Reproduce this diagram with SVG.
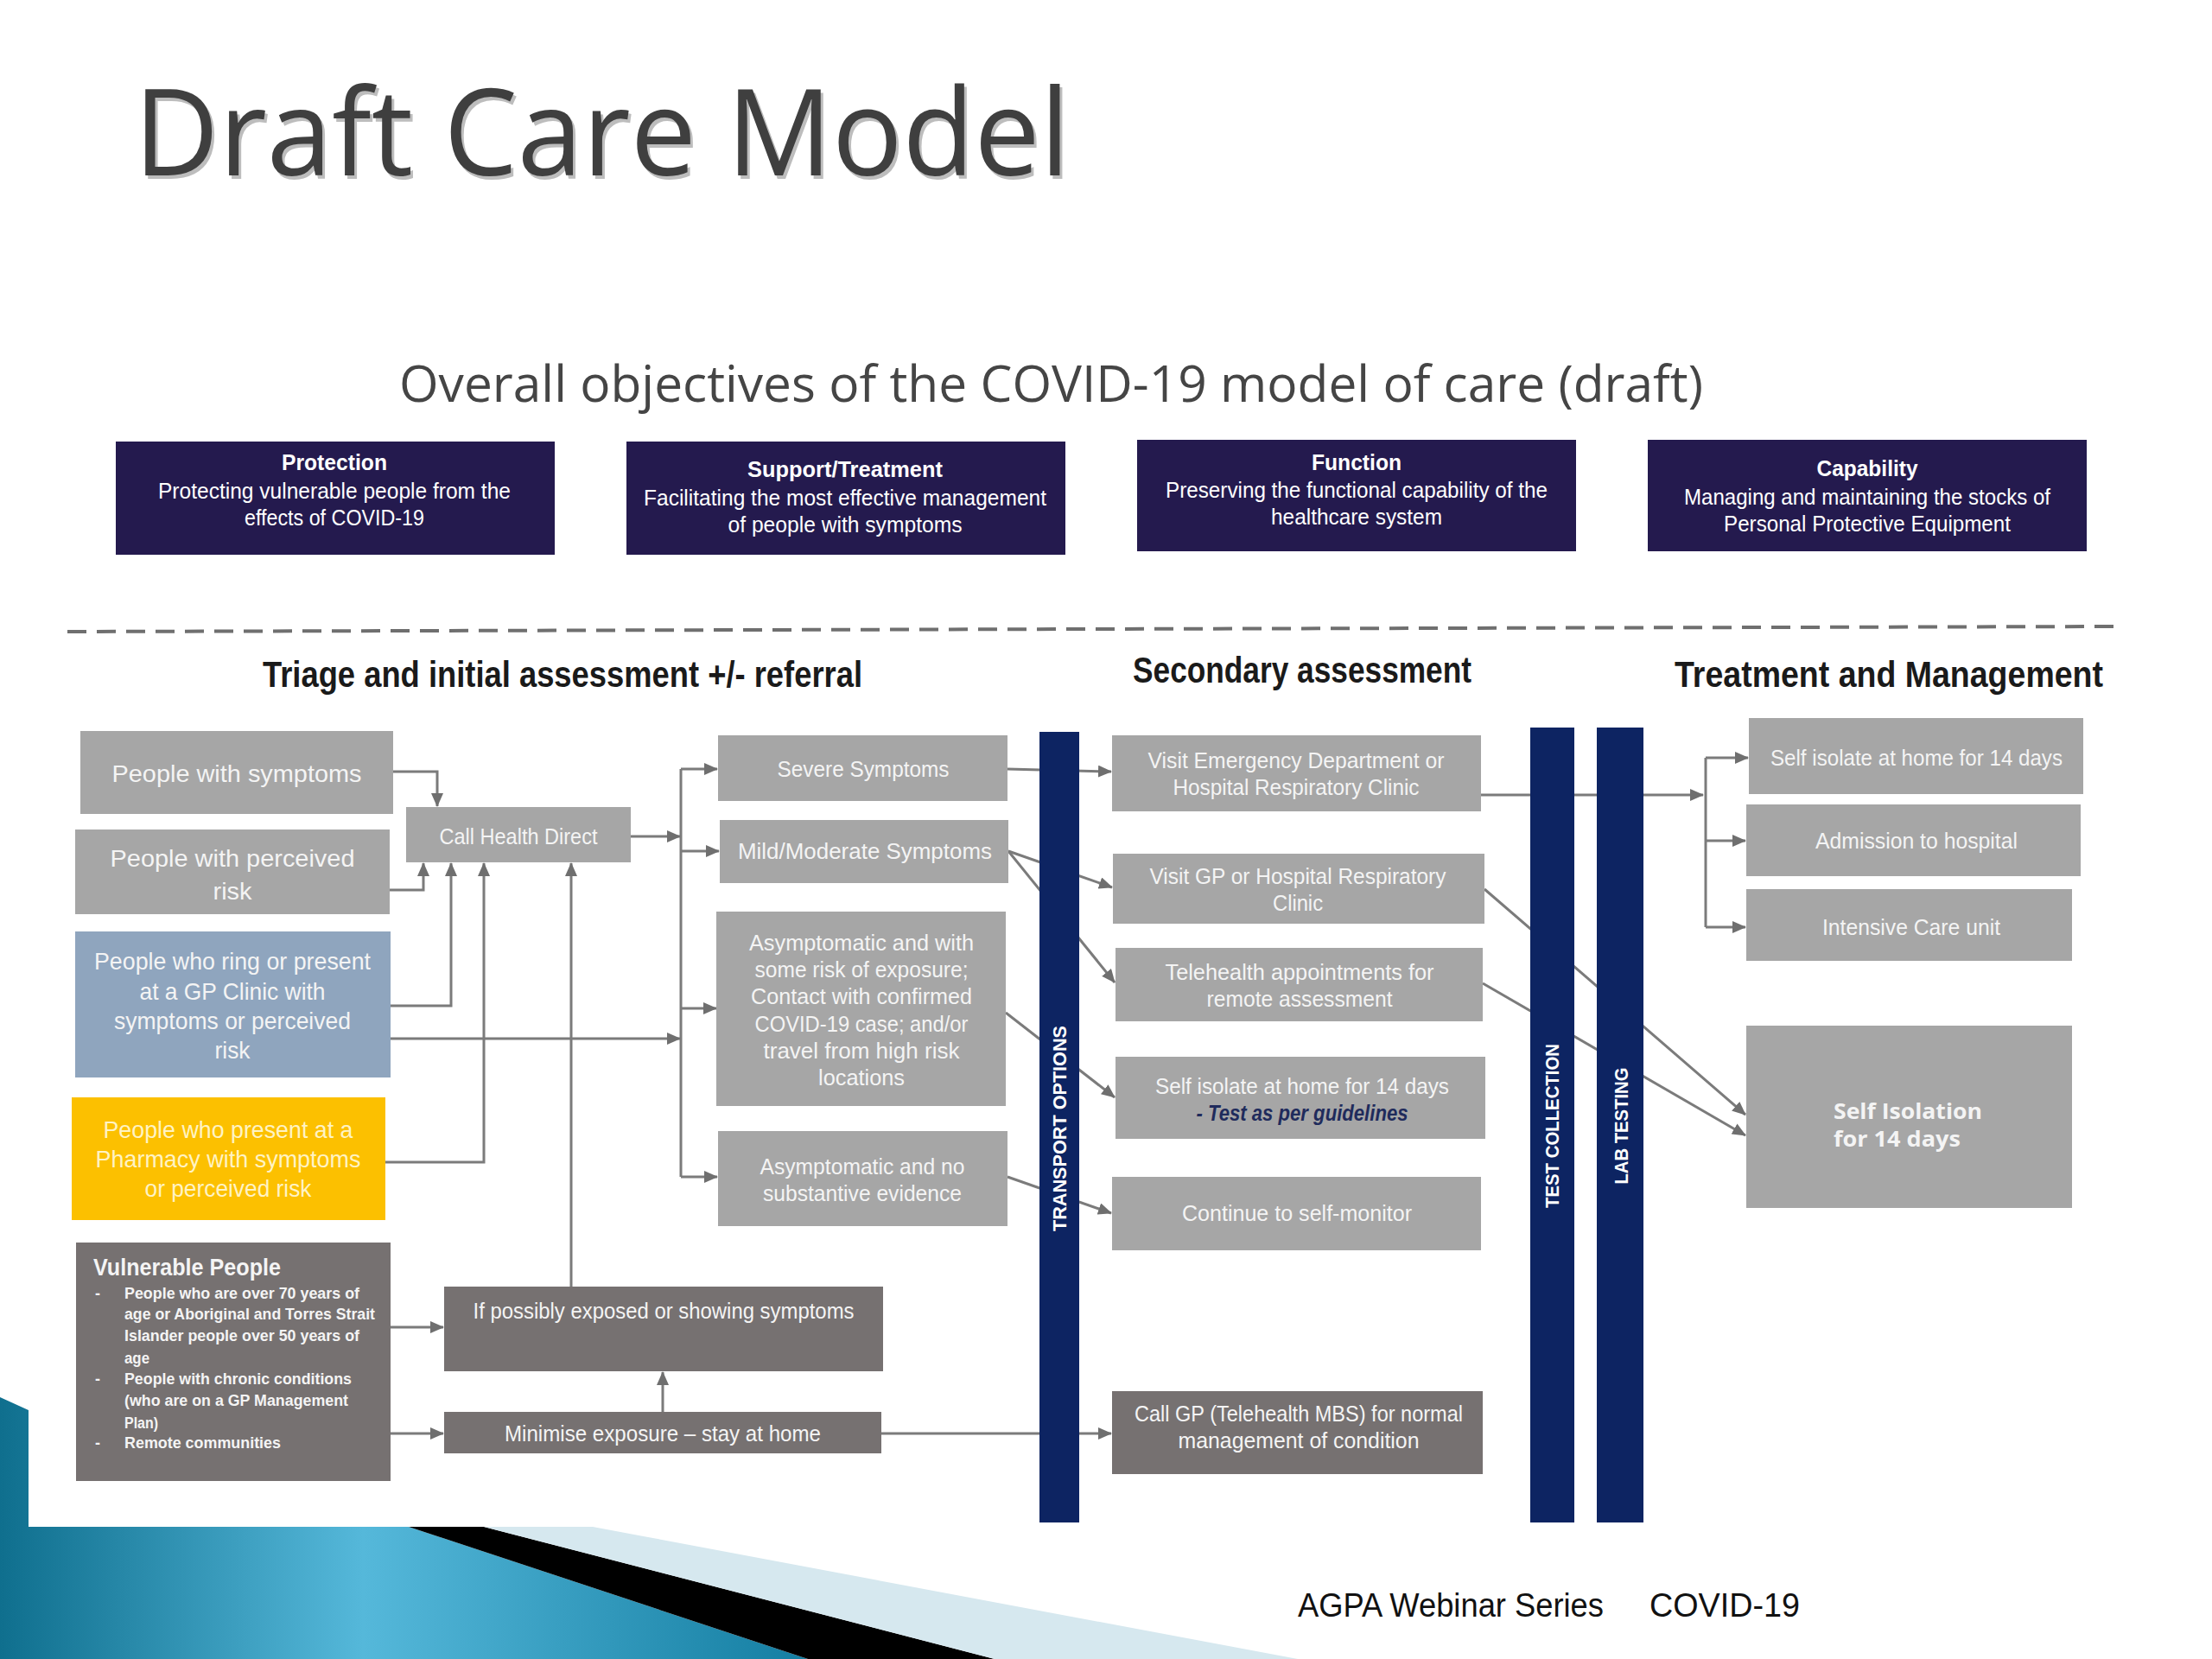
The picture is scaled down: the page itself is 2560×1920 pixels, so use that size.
<svg xmlns="http://www.w3.org/2000/svg" width="2560" height="1920" viewBox="0 0 2560 1920">
<defs>
<style>
.obj{fill:#241a4e}
.g{fill:#a6a6a6}
.d{fill:#767171}
.gp{fill:#8fa5be}
.ye{fill:#fcc000}
.bar{fill:#0d2462}
.t{font-family:"Liberation Sans",Arial,sans-serif;fill:#f4f4f4;font-size:25px;text-anchor:middle}
.tl{font-family:"Liberation Sans",Arial,sans-serif;fill:#f4f4f4;font-size:28px;text-anchor:middle}
.ot{font-family:"Liberation Sans",Arial,sans-serif;fill:#ffffff;font-size:25px;text-anchor:middle}
.otb{font-family:"Liberation Sans",Arial,sans-serif;fill:#ffffff;font-size:26px;font-weight:bold;text-anchor:middle}
.hd{font-family:"Liberation Sans",Arial,sans-serif;fill:#1a1a1a;font-size:42px;font-weight:bold}
.bt{font-family:"Liberation Sans",Arial,sans-serif;fill:#ffffff;font-size:22px;font-weight:bold;text-anchor:middle}
.vb{font-family:"Liberation Sans",Arial,sans-serif;fill:#f4f4f4;font-size:18px;font-weight:bold}
.conn{stroke:#7b7b7b;stroke-width:3;fill:none}
</style>
<marker id="ah" markerUnits="userSpaceOnUse" markerWidth="16" markerHeight="14" refX="15" refY="7" orient="auto">
<path d="M0,0 L16,7 L0,14 z" fill="#6f6f6f"/>
</marker>
<linearGradient id="teal" x1="0" y1="0" x2="1" y2="0">
<stop offset="0" stop-color="#0f6f8e"/>
<stop offset="0.45" stop-color="#55b8da"/>
<stop offset="1" stop-color="#147ea2"/>
</linearGradient>
</defs>
<rect x="0" y="0" width="2560" height="1920" fill="#ffffff"/>

<g id="background">
<polygon points="0,1617 33,1632 33,1767 473,1767 935,1920 0,1920" fill="url(#teal)"/>
<polygon points="473,1767 560,1767 1151,1920 935,1920" fill="#000000"/>
<polygon points="560,1767 686,1767 1502,1920 1151,1920" fill="#d6e8ef"/>
</g>

<g id="titles">
<text x="158" y="207" font-family="Open Sans, Liberation Sans, sans-serif" font-size="140" fill="#bdbdbd" textLength="1083" lengthAdjust="spacingAndGlyphs">Draft Care Model</text>
<text x="155" y="203" font-family="Open Sans, Liberation Sans, sans-serif" font-size="140" fill="#3f3f3f" textLength="1083" lengthAdjust="spacingAndGlyphs">Draft Care Model</text>
<text x="462" y="465" font-family="Open Sans, Liberation Sans, sans-serif" font-size="58" fill="#454545" textLength="1509" lengthAdjust="spacingAndGlyphs">Overall objectives of the COVID-19 model of care (draft)</text>
<line x1="78" y1="731" x2="2454" y2="725" stroke="#6f6f6f" stroke-width="4" stroke-dasharray="22 12"/>
<text class="hd" x="304" y="795" textLength="694" lengthAdjust="spacingAndGlyphs">Triage and initial assessment +/- referral</text>
<text class="hd" x="1311" y="790" textLength="392" lengthAdjust="spacingAndGlyphs">Secondary assessment</text>
<text class="hd" x="1938" y="795" textLength="496" lengthAdjust="spacingAndGlyphs">Treatment and Management</text>
<text x="1502" y="1871" font-family="Liberation Sans, Arial, sans-serif" font-size="38" fill="#111111" textLength="354" lengthAdjust="spacingAndGlyphs">AGPA Webinar Series</text>
<text x="1909" y="1871" font-family="Liberation Sans, Arial, sans-serif" font-size="38" fill="#111111" textLength="174" lengthAdjust="spacingAndGlyphs">COVID-19</text>
</g>

<g id="objectives">
<g id="obj-protection">
<rect class="obj" x="134" y="511" width="508" height="131"/>
<text class="otb" x="387" y="544" textLength="122" lengthAdjust="spacingAndGlyphs">Protection</text>
<text class="ot" x="387" y="577" textLength="408" lengthAdjust="spacingAndGlyphs">Protecting vulnerable people from the</text>
<text class="ot" x="387" y="608" textLength="208" lengthAdjust="spacingAndGlyphs">effects of COVID-19</text>
</g>
<g id="obj-support">
<rect class="obj" x="725" y="511" width="508" height="131"/>
<text class="otb" x="978" y="552" textLength="226" lengthAdjust="spacingAndGlyphs">Support/Treatment</text>
<text class="ot" x="978" y="585" textLength="466" lengthAdjust="spacingAndGlyphs">Facilitating the most effective management</text>
<text class="ot" x="978" y="616" textLength="271" lengthAdjust="spacingAndGlyphs">of people with symptoms</text>
</g>
<g id="obj-function">
<rect class="obj" x="1316" y="509" width="508" height="129"/>
<text class="otb" x="1570" y="544" textLength="104" lengthAdjust="spacingAndGlyphs">Function</text>
<text class="ot" x="1570" y="576" textLength="442" lengthAdjust="spacingAndGlyphs">Preserving the functional capability of the</text>
<text class="ot" x="1570" y="607" textLength="198" lengthAdjust="spacingAndGlyphs">healthcare system</text>
</g>
<g id="obj-capability">
<rect class="obj" x="1907" y="509" width="508" height="129"/>
<text class="otb" x="2161" y="551" textLength="117" lengthAdjust="spacingAndGlyphs">Capability</text>
<text class="ot" x="2161" y="584" textLength="424" lengthAdjust="spacingAndGlyphs">Managing and maintaining the stocks of</text>
<text class="ot" x="2161" y="615" textLength="332" lengthAdjust="spacingAndGlyphs">Personal Protective Equipment</text>
</g>
</g>

<g id="connectors">
<path class="conn" d="M455,893 H506 V933" marker-end="url(#ah)"/>
<path class="conn" d="M451,1030 H490 V999" marker-end="url(#ah)"/>
<path class="conn" d="M452,1164 H522 V999" marker-end="url(#ah)"/>
<path class="conn" d="M446,1345 H560 V999" marker-end="url(#ah)"/>
<path class="conn" d="M661,1489 V999" marker-end="url(#ah)"/>
<path class="conn" d="M452,1202 H787" marker-end="url(#ah)"/>
<path class="conn" d="M730,968 H787" marker-end="url(#ah)"/>
<path class="conn" d="M788,890 V1362"/>
<path class="conn" d="M788,890 H830" marker-end="url(#ah)"/>
<path class="conn" d="M788,985 H832" marker-end="url(#ah)"/>
<path class="conn" d="M788,1167 H829" marker-end="url(#ah)"/>
<path class="conn" d="M788,1362 H830" marker-end="url(#ah)"/>
<path class="conn" d="M452,1536 H513" marker-end="url(#ah)"/>
<path class="conn" d="M452,1659 H513" marker-end="url(#ah)"/>
<path class="conn" d="M767,1634 V1588" marker-end="url(#ah)"/>
<path class="conn" d="M1020,1659 H1286" marker-end="url(#ah)"/>
<path class="conn" d="M1166,890 L1286,893" marker-end="url(#ah)"/>
<path class="conn" d="M1167,985 L1287,1027" marker-end="url(#ah)"/>
<path class="conn" d="M1167,985 L1290,1137" marker-end="url(#ah)"/>
<path class="conn" d="M1164,1172 L1290,1270" marker-end="url(#ah)"/>
<path class="conn" d="M1166,1362 L1286,1404" marker-end="url(#ah)"/>
<path class="conn" d="M1714,920 H1971" marker-end="url(#ah)"/>
<path class="conn" d="M1974,877 V1073"/>
<path class="conn" d="M1974,877 H2023" marker-end="url(#ah)"/>
<path class="conn" d="M1974,973 H2020" marker-end="url(#ah)"/>
<path class="conn" d="M1974,1073 H2020" marker-end="url(#ah)"/>
<path class="conn" d="M1718,1029 L2020,1290" marker-end="url(#ah)"/>
<path class="conn" d="M1716,1138 L2020,1314" marker-end="url(#ah)"/>
</g>

<g id="nodes">
<g id="people-symptoms">
<rect class="g" x="93" y="846" width="362" height="96"/>
<text class="tl" x="274" y="905" textLength="289" lengthAdjust="spacingAndGlyphs">People with symptoms</text>
</g>
<g id="people-perceived">
<rect class="g" x="87" y="960" width="364" height="98"/>
<text class="tl" x="269" y="1003" textLength="283" lengthAdjust="spacingAndGlyphs">People with perceived</text>
<text class="tl" x="269" y="1041" textLength="45" lengthAdjust="spacingAndGlyphs">risk</text>
</g>
<g id="people-gp">
<rect class="gp" x="87" y="1078" width="365" height="169"/>
<text class="tl" x="269" y="1122" textLength="320" lengthAdjust="spacingAndGlyphs">People who ring or present</text>
<text class="tl" x="269" y="1157" textLength="215" lengthAdjust="spacingAndGlyphs">at a GP Clinic with</text>
<text class="tl" x="269" y="1191" textLength="274" lengthAdjust="spacingAndGlyphs">symptoms or perceived</text>
<text class="tl" x="269" y="1225" textLength="41" lengthAdjust="spacingAndGlyphs">risk</text>
</g>
<g id="people-pharmacy">
<rect class="ye" x="83" y="1270" width="363" height="142"/>
<text class="tl" x="264" y="1317" style="fill:#fff3c4" textLength="289" lengthAdjust="spacingAndGlyphs">People who present at a</text>
<text class="tl" x="264" y="1351" style="fill:#fff3c4" textLength="307" lengthAdjust="spacingAndGlyphs">Pharmacy with symptoms</text>
<text class="tl" x="264" y="1385" style="fill:#fff3c4" textLength="193" lengthAdjust="spacingAndGlyphs">or perceived risk</text>
</g>
<g id="vulnerable">
<rect class="d" x="88" y="1438" width="364" height="276"/>
<text x="108" y="1476" font-family="Liberation Sans, Arial, sans-serif" font-size="28" font-weight="bold" fill="#f4f4f4" textLength="217" lengthAdjust="spacingAndGlyphs">Vulnerable People</text>
<text class="vb" x="110" y="1503">-</text>
<text class="vb" x="144" y="1503" textLength="272" lengthAdjust="spacingAndGlyphs">People who are over 70 years of</text>
<text class="vb" x="144" y="1527" textLength="290" lengthAdjust="spacingAndGlyphs">age or Aboriginal and Torres Strait</text>
<text class="vb" x="144" y="1552" textLength="272" lengthAdjust="spacingAndGlyphs">Islander people over 50 years of</text>
<text class="vb" x="144" y="1578" textLength="29" lengthAdjust="spacingAndGlyphs">age</text>
<text class="vb" x="110" y="1602">-</text>
<text class="vb" x="144" y="1602" textLength="263" lengthAdjust="spacingAndGlyphs">People with chronic conditions</text>
<text class="vb" x="144" y="1627" textLength="259" lengthAdjust="spacingAndGlyphs">(who are on a GP Management</text>
<text class="vb" x="144" y="1653" textLength="39" lengthAdjust="spacingAndGlyphs">Plan)</text>
<text class="vb" x="110" y="1676">-</text>
<text class="vb" x="144" y="1676" textLength="181" lengthAdjust="spacingAndGlyphs">Remote  communities</text>
</g>
<g id="call-health-direct">
<rect class="g" x="470" y="934" width="260" height="64"/>
<text class="t" x="600" y="977" textLength="183" lengthAdjust="spacingAndGlyphs">Call Health Direct</text>
</g>
<g id="if-possibly">
<rect class="d" x="514" y="1489" width="508" height="98"/>
<text class="t" x="768" y="1526" textLength="441" lengthAdjust="spacingAndGlyphs">If possibly exposed or showing symptoms</text>
</g>
<g id="minimise">
<rect class="d" x="514" y="1634" width="506" height="48"/>
<text class="t" x="767" y="1668" textLength="366" lengthAdjust="spacingAndGlyphs">Minimise exposure – stay at home</text>
</g>
<g id="severe">
<rect class="g" x="831" y="851" width="335" height="76"/>
<text class="t" x="999" y="899" textLength="199" lengthAdjust="spacingAndGlyphs">Severe Symptoms</text>
</g>
<g id="mild">
<rect class="g" x="833" y="949" width="334" height="73"/>
<text class="t" x="1001" y="994" textLength="294" lengthAdjust="spacingAndGlyphs">Mild/Moderate Symptoms</text>
</g>
<g id="asym-risk">
<rect class="g" x="829" y="1055" width="335" height="225"/>
<text class="t" x="997" y="1100" textLength="260" lengthAdjust="spacingAndGlyphs">Asymptomatic and with</text>
<text class="t" x="997" y="1131" textLength="247" lengthAdjust="spacingAndGlyphs">some risk of exposure;</text>
<text class="t" x="997" y="1162" textLength="256" lengthAdjust="spacingAndGlyphs">Contact with confirmed</text>
<text class="t" x="997" y="1194" textLength="247" lengthAdjust="spacingAndGlyphs">COVID-19 case; and/or</text>
<text class="t" x="997" y="1225" textLength="227" lengthAdjust="spacingAndGlyphs">travel from high risk</text>
<text class="t" x="997" y="1256" textLength="100" lengthAdjust="spacingAndGlyphs">locations</text>
</g>
<g id="asym-no">
<rect class="g" x="831" y="1309" width="335" height="110"/>
<text class="t" x="998" y="1359" textLength="237" lengthAdjust="spacingAndGlyphs">Asymptomatic and no</text>
<text class="t" x="998" y="1390" textLength="230" lengthAdjust="spacingAndGlyphs">substantive evidence</text>
</g>
<g id="transport-options">
<rect class="bar" x="1203" y="847" width="46" height="915"/>
<text class="bt" transform="translate(1226,1306) rotate(-90)" x="0" y="8" textLength="238" lengthAdjust="spacingAndGlyphs">TRANSPORT OPTIONS</text>
</g>
<g id="visit-ed">
<rect class="g" x="1287" y="851" width="427" height="88"/>
<text class="t" x="1500" y="889" textLength="343" lengthAdjust="spacingAndGlyphs">Visit Emergency Department or</text>
<text class="t" x="1500" y="920" textLength="285" lengthAdjust="spacingAndGlyphs">Hospital Respiratory Clinic</text>
</g>
<g id="visit-gp">
<rect class="g" x="1288" y="988" width="430" height="81"/>
<text class="t" x="1502" y="1023" textLength="343" lengthAdjust="spacingAndGlyphs">Visit GP or Hospital Respiratory</text>
<text class="t" x="1502" y="1054" textLength="58" lengthAdjust="spacingAndGlyphs">Clinic</text>
</g>
<g id="telehealth">
<rect class="g" x="1291" y="1097" width="425" height="85"/>
<text class="t" x="1504" y="1134" textLength="311" lengthAdjust="spacingAndGlyphs">Telehealth appointments for</text>
<text class="t" x="1504" y="1165" textLength="215" lengthAdjust="spacingAndGlyphs">remote assessment</text>
</g>
<g id="self-isolate-test">
<rect class="g" x="1291" y="1223" width="428" height="95"/>
<text class="t" x="1507" y="1266" textLength="340" lengthAdjust="spacingAndGlyphs">Self isolate at home for 14 days</text>
<text class="t" x="1507" y="1297" style="fill:#1f2b5c;font-style:italic;font-weight:bold" textLength="245" lengthAdjust="spacingAndGlyphs">- Test as per guidelines</text>
</g>
<g id="continue-monitor">
<rect class="g" x="1287" y="1362" width="427" height="85"/>
<text class="t" x="1501" y="1413" textLength="266" lengthAdjust="spacingAndGlyphs">Continue to self-monitor</text>
</g>
<g id="call-gp">
<rect class="d" x="1287" y="1610" width="429" height="96"/>
<text class="t" x="1503" y="1645" textLength="380" lengthAdjust="spacingAndGlyphs">Call GP (Telehealth MBS) for normal</text>
<text class="t" x="1503" y="1676" textLength="279" lengthAdjust="spacingAndGlyphs">management of condition</text>
</g>
<g id="test-collection">
<rect class="bar" x="1771" y="842" width="51" height="920"/>
<text class="bt" transform="translate(1796,1303) rotate(-90)" x="0" y="8" textLength="190" lengthAdjust="spacingAndGlyphs">TEST COLLECTION</text>
</g>
<g id="lab-testing">
<rect class="bar" x="1848" y="842" width="54" height="920"/>
<text class="bt" transform="translate(1876,1303) rotate(-90)" x="0" y="8" textLength="135" lengthAdjust="spacingAndGlyphs">LAB TESTING</text>
</g>
<g id="tm-self-isolate">
<rect class="g" x="2024" y="831" width="387" height="88"/>
<text class="t" x="2218" y="886" textLength="338" lengthAdjust="spacingAndGlyphs">Self isolate at home for 14 days</text>
</g>
<g id="tm-admission">
<rect class="g" x="2021" y="931" width="387" height="83"/>
<text class="t" x="2218" y="982" textLength="234" lengthAdjust="spacingAndGlyphs">Admission to hospital</text>
</g>
<g id="tm-icu">
<rect class="g" x="2021" y="1029" width="377" height="83"/>
<text class="t" x="2212" y="1082" textLength="206" lengthAdjust="spacingAndGlyphs">Intensive Care unit</text>
</g>
<g id="tm-self-isolation">
<rect class="g" x="2021" y="1187" width="377" height="211"/>
<text x="2122" y="1295" font-family="Open Sans, Liberation Sans, sans-serif" font-size="25" font-weight="bold" fill="#f4f4f4" textLength="172" lengthAdjust="spacingAndGlyphs">Self Isolation</text>
<text x="2122" y="1327" font-family="Open Sans, Liberation Sans, sans-serif" font-size="25" font-weight="bold" fill="#f4f4f4" textLength="147" lengthAdjust="spacingAndGlyphs">for 14 days</text>
</g>
</g>
</svg>
